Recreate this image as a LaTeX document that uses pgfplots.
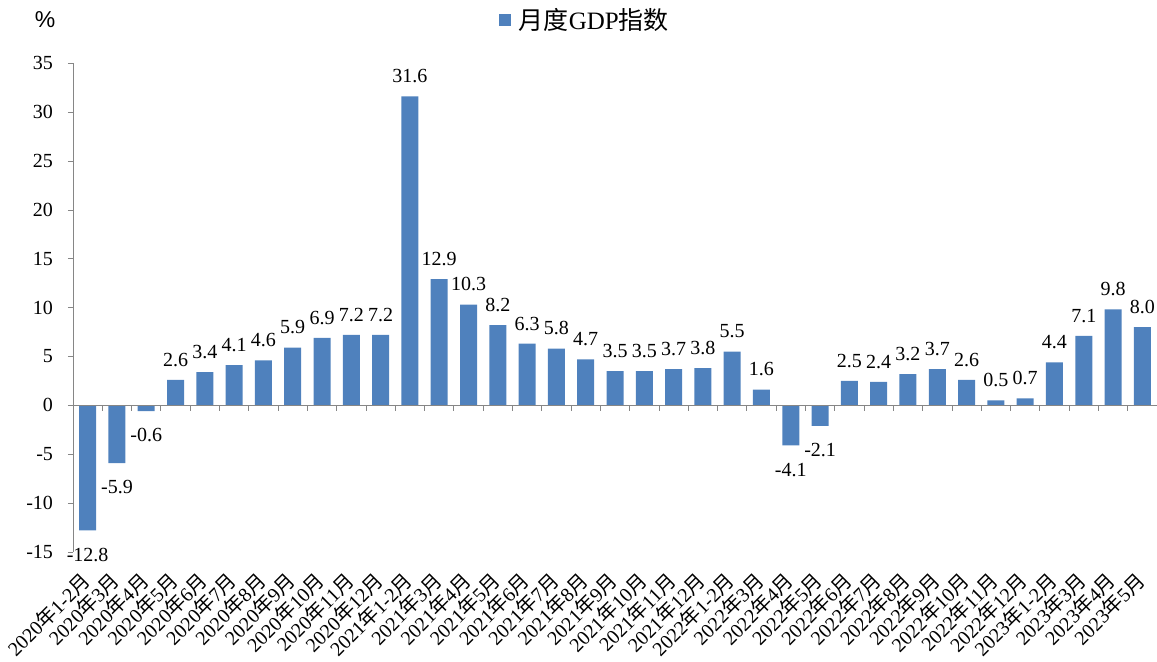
\documentclass[border=0pt]{standalone}
\usepackage{pgfplots}
\pgfplotsset{compat=1.18}
\usepackage{fontspec}
\setmainfont{Liberation Serif}
\newfontfamily\cjk{Noto Sans CJK SC}
\newfontfamily\arialfont{Liberation Sans}
\newcommand\ym[2]{#1{\cjk 年}#2{\cjk 月}}
\definecolor{barblue}{HTML}{4F81BD}
\definecolor{axgray}{HTML}{868686}

\begin{document}
\begin{tikzpicture}
\useasboundingbox (-36.5pt,-54.5pt) rectangle (542pt,276pt);
\begin{axis}[
  scale only axis, width=542pt, height=244.5pt,
  ymin=-15, ymax=35, ytick={-15,-10,...,35},
  xmin=-0.5, xmax=36.5,
  axis y line=left, axis x line=bottom,
  x axis line style={draw=none},
  y axis line style={axgray,-},
  tick align=outside,
  major tick length=2.5pt,
  ytick style={axgray},
  xtick={0,...,36}, xtick style={draw=none},
  xticklabels={\ym{2020}{1-2},\ym{2020}{3},\ym{2020}{4},\ym{2020}{5},\ym{2020}{6},\ym{2020}{7},\ym{2020}{8},\ym{2020}{9},\ym{2020}{10},\ym{2020}{11},\ym{2020}{12},
    \ym{2021}{1-2},\ym{2021}{3},\ym{2021}{4},\ym{2021}{5},\ym{2021}{6},\ym{2021}{7},\ym{2021}{8},\ym{2021}{9},\ym{2021}{10},\ym{2021}{11},\ym{2021}{12},
    \ym{2022}{1-2},\ym{2022}{3},\ym{2022}{4},\ym{2022}{5},\ym{2022}{6},\ym{2022}{7},\ym{2022}{8},\ym{2022}{9},\ym{2022}{10},\ym{2022}{11},\ym{2022}{12},
    \ym{2023}{1-2},\ym{2023}{3},\ym{2023}{4},\ym{2023}{5}},
  xticklabel style={xshift=-4pt, yshift=-6.5pt, rotate=45, anchor=north east, font=\fontsize{10}{11}\selectfont, inner sep=0pt},
  yticklabel style={font=\fontsize{10}{11}\selectfont, xshift=-4pt},
  /pgf/number format/assume math mode=true,
  legend style={at={(0.473,1)}, anchor=center, yshift=21.5pt, draw=none, fill=none,
    font=\fontsize{12.5}{14}\selectfont, legend cell align=left},
  legend image code/.code={\fill[barblue] (0pt,-3pt) rectangle (6pt,3pt);},
]
\addplot[ybar, bar width=8.5pt, fill=barblue, draw=none,
  visualization depends on={y \as \rawy},
  nodes near coords={\pgfmathprintnumber[fixed,fixed zerofill,precision=1,assume math mode=true]{\pgfplotspointmeta}},
  nodes near coords align=vertical,
  every node near coord/.append style={font=\fontsize{10}{11}\selectfont, text=black,
    inner xsep=1pt, inner ysep=6.5pt, yshift={ifthenelse(\rawy<0,-2pt,0pt)}}]
coordinates {
(0,-12.8) (1,-5.9) (2,-0.6) (3,2.6) (4,3.4) (5,4.1) (6,4.6) (7,5.9) (8,6.9) (9,7.2) (10,7.2)
(11,31.6) (12,12.9) (13,10.3) (14,8.2) (15,6.3) (16,5.8) (17,4.7) (18,3.5) (19,3.5) (20,3.7) (21,3.8)
(22,5.5) (23,1.6) (24,-4.1) (25,-2.1) (26,2.5) (27,2.4) (28,3.2) (29,3.7) (30,2.6) (31,0.5) (32,0.7)
(33,4.4) (34,7.1) (35,9.8) (36,8.0)
};
\addlegendentry{\,{\cjk 月度}GDP{\cjk 指数}}
% zero line with separators between months
\draw[axgray] (axis cs:-0.5,0) -- (axis cs:36.5,0);
\pgfplotsinvokeforeach{0.5,1.5,...,35.5}{
  \draw[axgray] (axis cs:#1,0) -- ++(0pt,-3pt);
}
\end{axis}
\node[font=\arialfont\fontsize{11.5}{13}\selectfont] at (-14pt,266pt) {\%};
\end{tikzpicture}
\end{document}
